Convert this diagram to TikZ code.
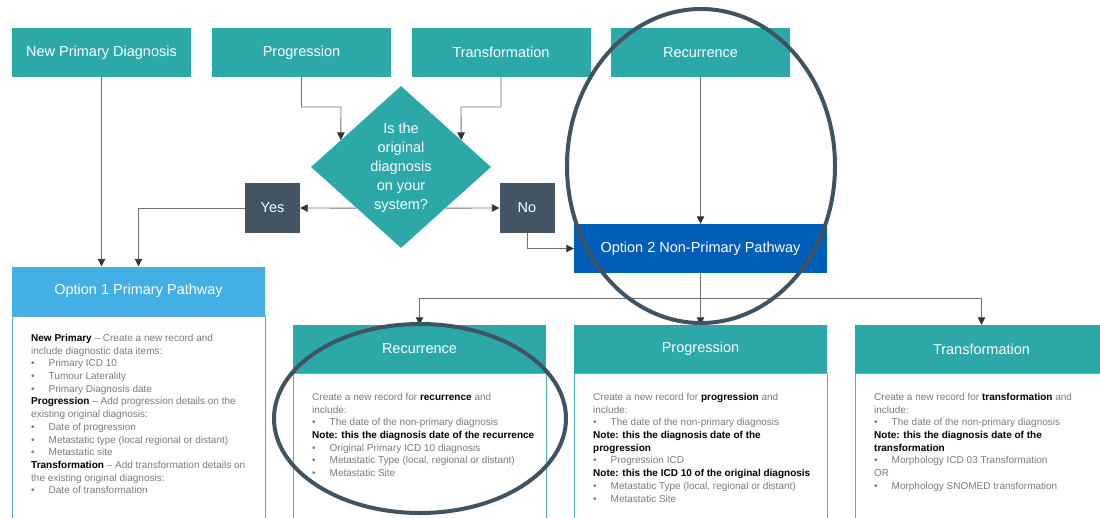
\documentclass[tikz,border=0pt]{standalone}
\usepackage{fontspec}
\setmainfont{Liberation Sans}
\usetikzlibrary{arrows.meta,shapes.geometric,calc}
\definecolor{tealA}{HTML}{2CA8A9}
\definecolor{slateA}{HTML}{435563}
\definecolor{blueB}{HTML}{005EB8}
\definecolor{blueA}{HTML}{42B0E5}
\definecolor{ringA}{HTML}{3F5361}
\definecolor{connA}{HTML}{707070}
\definecolor{tipA}{HTML}{333333}
\definecolor{bodyA}{HTML}{7A7A7A}
\definecolor{borderA}{HTML}{55B2B3}
\newcommand{\hd}[1]{{\color{black}\bfseries #1}}
\newcommand{\bl}[1]{\makebox[17.5pt][l]{•}#1}
\begin{document}
\begin{tikzpicture}[x=1pt,y=-1pt,
  topbox/.style={fill=tealA,text=white,minimum width=179pt,minimum height=49pt,inner sep=0pt,font=\fontsize{14.5}{17}\selectfont},
  headbox/.style={text=white,minimum width=253pt,minimum height=49pt,inner sep=0pt,font=\fontsize{14.5}{17}\selectfont},
  ynbox/.style={fill=slateA,text=white,minimum width=55pt,minimum height=50pt,inner sep=0pt,font=\fontsize{14.5}{17}\selectfont},
  bodytext/.style={anchor=north west,align=left,inner sep=0pt,text=bodyA,font=\fontsize{10}{12.7}\selectfont},
  bodyframe/.style={draw=borderA,line width=0.9pt},
  conn/.style={draw=connA,line width=0.9pt},
  arr/.style={conn,-{Triangle[width=7.5pt,length=7.5pt,color=tipA]}},
  ring/.style={draw=ringA,line width=4pt}]
\useasboundingbox (0,0) rectangle (1100,517);
\clip (0,0) rectangle (1100,517);

% top row
\node[topbox] (np) at (101.5,52.5) {New Primary Diagnosis};
\node[topbox] (prog) at (301.5,52.5) {Progression};
\node[topbox] (trans) at (501,52.5) {Transformation};
\node[topbox] (rec) at (700.5,52.5) {Recurrence};

% decision
\node[diamond,fill=tealA,minimum width=180pt,minimum height=162pt,inner sep=0pt] (q) at (401,167) {};
\node[text=white,align=center,inner sep=0pt,font=\fontsize{14.5}{19}\selectfont] (qt) at (401,168) {Is the\\original\\diagnosis\\on your\\system?};

\node[ynbox] (yes) at (272.5,208) {Yes};
\node[ynbox] (no) at (527,208) {No};

% pathways
\node[headbox,fill=blueA] (opt1) at (138.5,291) {Option 1 Primary Pathway};
\node[headbox,fill=blueB] (opt2) at (700.5,248.5) {Option 2 Non-Primary Pathway};

% bodies
\draw[bodyframe] (12,316) rectangle (265,530);
\draw[bodyframe] (293,373) rectangle (546,530);
\draw[bodyframe] (574,373) rectangle (827,530);
\draw[bodyframe] (855,373) rectangle (1110,530);

\node[headbox,fill=tealA,minimum height=48pt] (brec) at (419.5,349) {Recurrence};
\node[headbox,fill=tealA,minimum height=48pt] (bprog) at (700.5,349) {Progression};
\node[headbox,fill=tealA,minimum height=48pt] (btrans) at (981.5,349) {Transformation};

\node[bodytext] (t1) at (31,334) {\hd{New Primary} – Create a new record and\\
include diagnostic data items:\\
\bl{Primary ICD 10}\\
\bl{Tumour Laterality}\\
\bl{Primary Diagnosis date}\\
\hd{Progression} – Add progression details on the\\
existing original diagnosis:\\
\bl{Date of progression}\\
\bl{Metastatic type (local regional or distant)}\\
\bl{Metastatic site}\\
\hd{Transformation} – Add transformation details on\\
the existing original diagnosis:\\
\bl{Date of transformation}};

\node[bodytext] (t2) at (312,393) {Create a new record for \hd{recurrence} and\\
include:\\
\bl{The date of the non-primary diagnosis}\\
\hd{Note: this the diagnosis date of the recurrence}\\
\bl{Original Primary ICD 10 diagnosis}\\
\bl{Metastatic Type (local, regional or distant)}\\
\bl{Metastatic Site}};

\node[bodytext] (t3) at (593,393) {Create a new record for \hd{progression} and\\
include:\\
\bl{The date of the non-primary diagnosis}\\
\hd{Note: this the diagnosis date of the}\\
\hd{progression}\\
\bl{Progression ICD}\\
\hd{Note: this the ICD 10 of the original diagnosis}\\
\bl{Metastatic Type (local, regional or distant)}\\
\bl{Metastatic Site}};

\node[bodytext] (t4) at (874,393) {Create a new record for \hd{transformation} and\\
include:\\
\bl{The date of the non-primary diagnosis}\\
\hd{Note: this the diagnosis date of the}\\
\hd{transformation}\\
\bl{Morphology ICD 03 Transformation}\\
OR\\
\bl{Morphology SNOMED transformation}};

% connectors
\draw[arr] (prog.south) |- (341,107) -- ($(q.west)!0.333!(q.north)$);
\draw[arr] (trans.south) |- (461,107) -- ($(q.east)!0.333!(q.north)$);
\draw[arr] ($(q.west)!0.506!(q.south)$) -- (yes.east);
\draw[arr] ($(q.east)!0.506!(q.south)$) -- (no.west);
\draw[arr] (no.south) |- (opt2.west);
\draw[arr] (rec.south) -- (opt2.north);
\draw[arr] (yes.west) -| (opt1.north);
\draw[arr] (np.south) -- (np.south |- opt1.north);
\coordinate (hub) at (700.5,298);
\draw[arr] (opt2.south) -- (bprog.north);
\draw[arr] (hub) -| (brec.north);
\draw[arr] (hub) -| (btrans.north);

% highlight rings
\draw[ring] (701,166) ellipse [x radius=134pt, y radius=157pt];
\draw[ring] (420,418.5) ellipse [x radius=146pt, y radius=94.5pt];
\end{tikzpicture}
\end{document}
